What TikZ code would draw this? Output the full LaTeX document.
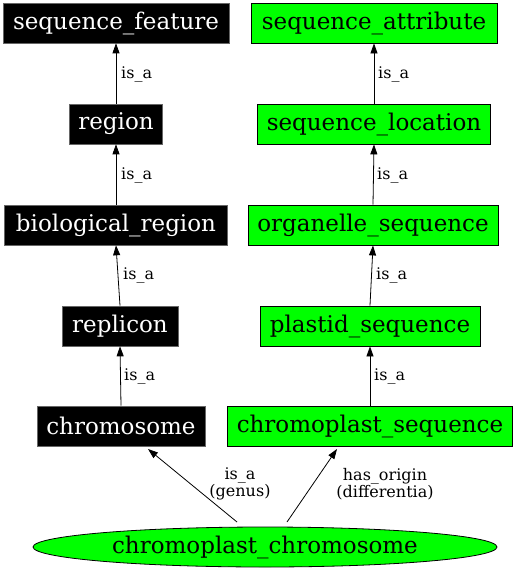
\documentclass[tikz,border=0pt]{standalone}
\usepackage{fontspec}
\setmainfont{DejaVu Serif}
\usetikzlibrary{arrows.meta,shapes.geometric}
\begin{document}
\begin{tikzpicture}[x=1pt,y=-1pt,
  blk/.style={draw=black!60,fill=black,text=white,font=\fontsize{23}{26}\selectfont,minimum height=40pt,inner sep=0pt,line width=0.6pt},
  grn/.style={draw=black,fill=green,text=black,font=\fontsize{23}{26}\selectfont,minimum height=40pt,inner sep=0pt,line width=0.8pt},
  edge/.style={draw=black,line width=0.8pt,-{Triangle[length=10pt,width=7pt]}},
  lbl/.style={font=\fontsize{16}{17}\selectfont,align=center,inner sep=1pt}]
\useasboundingbox (0,0) rectangle (518,576);
\node[blk,minimum width=226pt] (sf) at (116,23) {sequence\_feature};
\node[blk,minimum width=93pt] (rg) at (116,124) {region};
\node[blk,minimum width=223pt] (br) at (116,225) {biological\_region};
\node[blk,minimum width=116pt] (rp) at (120,326) {replicon};
\node[blk,minimum width=168pt] (ch) at (121,426) {chromosome};
\node[grn,minimum width=246pt] (sa) at (374,23) {sequence\_attribute};
\node[grn,minimum width=233pt] (sl) at (374,124) {sequence\_location};
\node[grn,minimum width=250pt] (os) at (373,225) {organelle\_sequence};
\node[grn,minimum width=220pt] (ps) at (370,326) {plastid\_sequence};
\node[grn,minimum width=285pt] (cs) at (370,426) {chromoplast\_sequence};
\node[ellipse,draw=black,fill=green,line width=0.8pt,minimum width=464pt,minimum height=40pt,inner sep=0pt,font=\fontsize{23}{26}\selectfont] (cc) at (265,547) {chromoplast\_chromosome};
\coordinate (c1) at (237,522);
\coordinate (c2) at (287,522);
\draw[edge] (rg.north) -- (sf.south);
\draw[edge] (br.north) -- (rg.south);
\draw[edge] (rp.north) -- (br.south);
\draw[edge] (ch.north) -- (rp.south);
\draw[edge] (sl.north) -- (sa.south);
\draw[edge] (os.north) -- (sl.south);
\draw[edge] (ps.north) -- (os.south);
\draw[edge] (cs.north) -- (ps.south);
\draw[edge] (c1) -- (148,449) coordinate (e1);
\draw[edge] (c2) -- (337,449) coordinate (e2);
\node[lbl,anchor=west] (l1) at (120,74) {is\_a};
\node[lbl,anchor=west] (l2) at (120,175) {is\_a};
\node[lbl,anchor=west] (l3) at (122,275) {is\_a};
\node[lbl,anchor=west] (l4) at (123,376) {is\_a};
\node[lbl,anchor=west] (l5) at (377,74) {is\_a};
\node[lbl,anchor=west] (l6) at (376,175) {is\_a};
\node[lbl,anchor=west] (l7) at (375,275) {is\_a};
\node[lbl,anchor=west] (l8) at (373,376) {is\_a};
\node[lbl] (l9) at (240,484) {is\_a\\(genus)};
\node[lbl] (l10) at (385,484) {has\_origin\\(differentia)};
\end{tikzpicture}
\end{document}
